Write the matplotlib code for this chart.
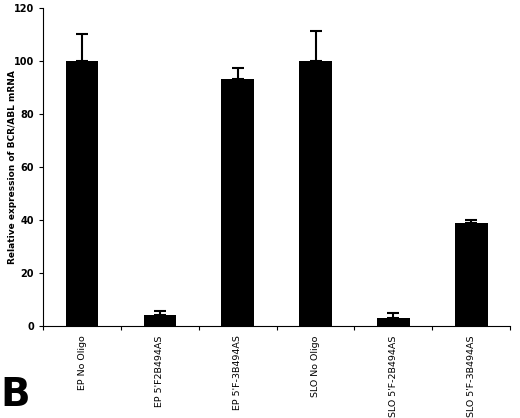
import matplotlib
matplotlib.use("Agg")
import matplotlib.pyplot as plt

categories = ["EP No Oligo", "EP 5'F2B494AS", "EP 5'F-3B494AS", "SLO No Oligo", "SLO 5'F-2B494AS", "SLO 5'F-3B494AS"]
values = [100, 4, 93.5, 100, 3, 39]
errors = [10.5, 1.5, 4, 11.5, 2, 1]
yticks = [0, 20, 40, 60, 80, 100, 120]

fig = plt.figure(figsize=(5.2, 4.18), dpi=100)
ax = fig.add_axes([0.083, 0.22, 0.898, 0.76])
x = list(range(len(categories)))
ax.bar(x, values, width=0.42, color="black")
ax.errorbar(x, values, yerr=[[0]*len(errors), errors],
            fmt="none", ecolor="black", elinewidth=1.5, capsize=4, capthick=1.5)
ax.set_xlim(-0.5, len(categories) - 0.5)
ax.set_ylim(0, 120)
ax.set_yticks(yticks)
ax.set_yticklabels([str(t) for t in yticks], fontsize=7, fontweight="bold")
ax.set_xticks([i + 0.5 for i in range(-1, len(categories))])
ax.set_xticklabels([])
ax.tick_params(axis="x", length=3, direction="out")
ax.tick_params(axis="y", length=3)
for i, c in enumerate(categories):
    ax.text(i, -3.5, c, rotation=90, ha="center", va="top", fontsize=6.8)
ax.spines["top"].set_visible(False)
ax.spines["right"].set_visible(False)
ax.set_ylabel("Relative expression of BCR/ABL mRNA", fontsize=6.5, fontweight="bold")
ax.yaxis.set_label_coords(-0.055, 0.5)
fig.text(0.0, 0.01, "B", fontsize=28, fontweight="bold", ha="left", va="bottom")
fig.savefig("out.png")
